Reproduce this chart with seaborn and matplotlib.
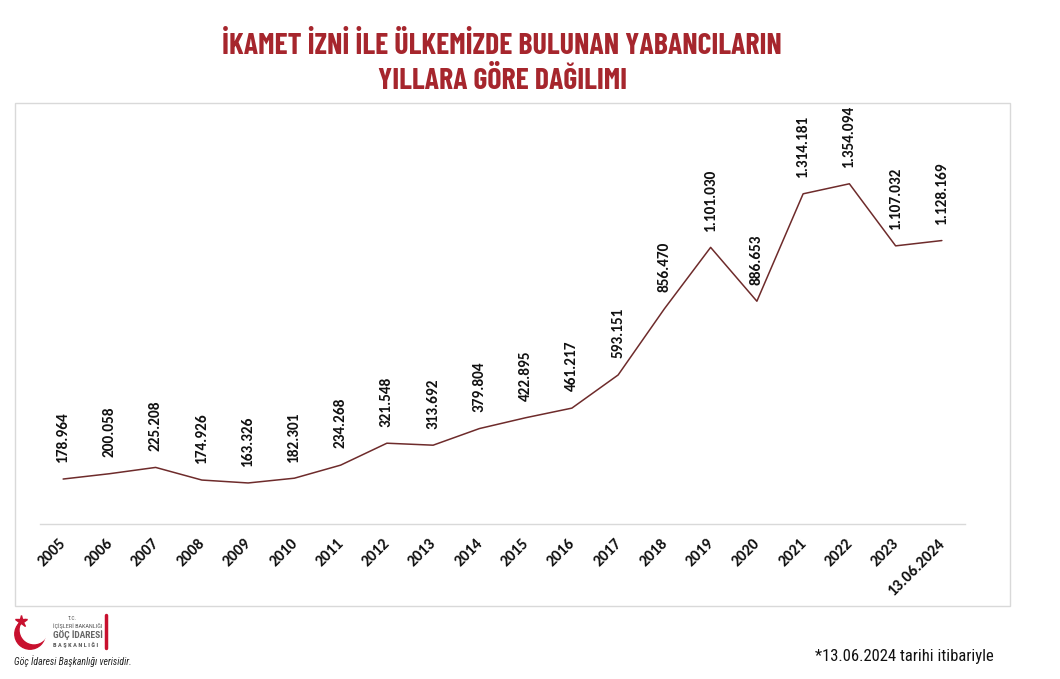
import matplotlib
matplotlib.use("Agg")
import matplotlib.pyplot as plt
import matplotlib.transforms as mtransforms
import seaborn as sns
import pandas as pd
import numpy as np
from matplotlib.patches import Rectangle, Circle

years = ["2005", "2006", "2007", "2008", "2009", "2010", "2011", "2012", "2013", "2014",
         "2015", "2016", "2017", "2018", "2019", "2020", "2021", "2022", "2023", "13.06.2024"]
values = [178964, 200058, 225208, 174926, 163326, 182301, 234268, 321548, 313692, 379804,
          422895, 461217, 593151, 856470, 1101030, 886653, 1314181, 1354094, 1107032, 1128169]
value_labels = ["178.964", "200.058", "225.208", "174.926", "163.326", "182.301", "234.268",
                "321.548", "313.692", "379.804", "422.895", "461.217", "593.151", "856.470",
                "1.101.030", "886.653", "1.314.181", "1.354.094", "1.107.032", "1.128.169"]
title_lines = ["İKAMET İZNİ İLE ÜLKEMİZDE BULUNAN YABANCILARIN", "YILLARA GÖRE DAĞILIMI"]

COND = ["Barlow Condensed", "Roboto Condensed", "IBM Plex Sans Condensed", "Open Sans Condensed", "DejaVu Sans"]
NARROW = ["Roboto Condensed", "IBM Plex Sans Condensed", "Open Sans Condensed", "DejaVu Sans"]
BODY = ["Carlito", "Lato", "DejaVu Sans"]

sns.set_theme(style="white")
plt.rcParams['font.family'] = BODY

fig = plt.figure(figsize=(10.6, 6.79), dpi=100)
W, H = 1060, 679

def fx(px):
    return px / W

def fy(py):
    return 1 - py / H

# outer frame
fig.patches.append(Rectangle((fx(15), fy(606)), fx(1010) - fx(15), fy(103) - fy(606),
                             transform=fig.transFigure, fill=False, edgecolor="#d9d9d9", lw=1))

ax = fig.add_axes([fx(40), fy(524), fx(965) - fx(40), fy(122) - fy(524)])
df = pd.DataFrame({"pos": np.arange(len(years)), "value": values})
sns.lineplot(data=df, x="pos", y="value", ax=ax, color="#6e2b2b", linewidth=1.1)

ax.set_xlim(-0.5, 19.5)
ax.set_ylim(0, 1.6e6)
ax.set_yticks([])
ax.set_xlabel("")
ax.set_ylabel("")
for s in ["top", "right", "left"]:
    ax.spines[s].set_visible(False)
ax.spines["bottom"].set_color("#d9d9d9")
ax.spines["bottom"].set_linewidth(1)

ax.set_xticks(np.arange(len(years)))
ax.set_xticklabels(years, rotation=45, ha="right", rotation_mode="anchor",
                   fontsize=11.5, fontweight="bold", color="#111111")
ax.tick_params(axis="x", length=0, pad=9)
shift = mtransforms.ScaledTranslation(-4 / 100, 0, fig.dpi_scale_trans)
for t in ax.get_xticklabels():
    t.set_transform(t.get_transform() + shift)

for i, (v, lab) in enumerate(zip(values, value_labels)):
    ax.annotate(lab, (i, v), xytext=(0, 12), textcoords="offset points",
                rotation=90, ha="center", va="bottom", fontsize=11,
                fontweight="bold", color="#111111")

# title
for k, line in enumerate(title_lines):
    fig.text(fx(502), fy(46 + k * 35), line, ha="center", va="center",
             fontsize=21.5, fontweight="bold", color="#a6262d", family=COND)

# logo
la = fig.add_axes([fx(10), fy(652), fx(40), fy(612) - fy(652)])
la.set_xlim(0, 1)
la.set_ylim(0, 1)
la.axis("off")
la.add_patch(Circle((0.5, 0.45), 0.38, color="#c8102e"))
la.add_patch(Circle((0.6, 0.55), 0.34, color="white"))
la.plot([0.28], [0.78], marker="*", color="#c8102e", markersize=9)

fig.text(fx(72), fy(619), "T.C.", fontsize=4, color="#555555", ha="center", va="center", family=NARROW)
fig.text(fx(53), fy(626), "İÇİŞLERİ BAKANLIĞI", fontsize=4.5, color="#555555", ha="left", va="center", family=NARROW)
fig.text(fx(53), fy(635), "GÖÇ İDARESİ", fontsize=6.8, fontweight="bold", color="#666666", ha="left", va="center",
         family=NARROW)
fig.text(fx(53), fy(645), "B A Ş K A N L I Ğ I", fontsize=4.5, fontweight="bold", color="#555555", ha="left",
         va="center", family=NARROW)
fig.lines.append(plt.Line2D([fx(106), fx(106)], [fy(615), fy(648)], transform=fig.transFigure,
                            color="#c8102e", lw=2.5))
fig.text(fx(14), fy(661), "Göç İdaresi Başkanlığı verisidir.", fontsize=7, style="italic",
         color="#222222", ha="left", va="center", family=NARROW)

fig.text(fx(815), fy(657), "*13.06.2024 tarihi itibariyle", fontsize=12, color="#111111",
         ha="left", va="center", family=NARROW)

fig.savefig("out.png", dpi=100, facecolor="white")
